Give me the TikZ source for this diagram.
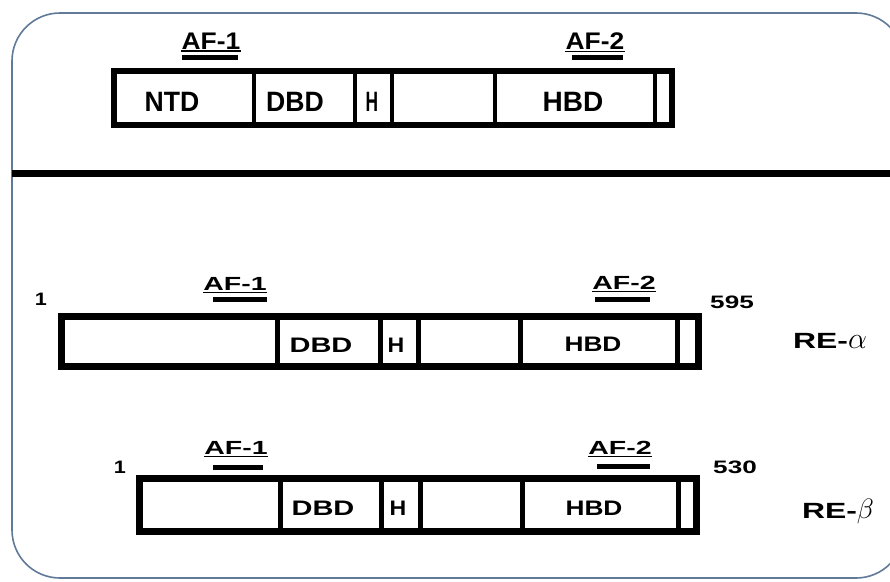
\documentclass[tikz,border=0pt]{standalone}
\usepackage{fontspec}
\usepackage{graphicx}
\setmainfont{Liberation Sans}
\definecolor{framecol}{RGB}{96,122,152}
\newcommand\wide[2]{\scalebox{#1}[1]{#2}}
\begin{document}
\begin{tikzpicture}[x=1pt,y=-1pt,
  barline/.style={line width=6pt, line join=miter},
  barlineb/.style={line width=7pt, line join=miter},
  divline/.style={line width=4pt},
  divlineb/.style={line width=5pt},
  afbar/.style={line width=5pt},
  afund/.style={line width=1.6pt},
  toplbl/.style={inner sep=0pt, font=\bfseries\fontsize{28}{28}\selectfont},
  toptag/.style={inner sep=0pt, font=\bfseries\fontsize{24}{24}\selectfont},
  lowlbl/.style={inner sep=0pt, font=\bfseries\fontsize{21}{21}\selectfont},
  lowtag/.style={inner sep=0pt, font=\bfseries\fontsize{19}{19}\selectfont},
  numlbl/.style={inner sep=0pt, font=\bfseries\fontsize{18}{18}\selectfont},
  relbl/.style={inner sep=0pt, anchor=base, font=\bfseries\fontsize{22}{22}\selectfont}]
\useasboundingbox (0,0) rectangle (890,581);

% outer frame, running past the right edge
\begin{scope}
  \clip (0,0) rectangle (890,581);
  \draw[framecol, line width=1.6pt, rounded corners=48pt] (12,13) rectangle (904,578);
  \fill[black] (12,170) rectangle (890,177);
\end{scope}

% ---------- generic receptor ----------
\draw[barline] (114,71) rectangle (672,125);
\foreach \x in {254,355,392,495,655} \draw[divline] (\x,71) -- (\x,125);
\node[toplbl] (ntd)  at (172,102) {\wide{0.95}{NTD}};
\node[toplbl] (dbd)  at (295,102) {\wide{0.95}{DBD}};
\node[toplbl] (hng)  at (372,102) {\wide{0.62}{H}};
\node[toplbl] (hbd)  at (573,102) {\wide{1.0}{HBD}};

\node[toptag] (afa) at (211,41) {\wide{1.1}{AF-1}};
\draw[afund] ([yshift=-2pt]afa.base west) -- ([yshift=-2pt]afa.base east);
\draw[afbar] (182,57) -- (238,57);
\node[toptag] (afb) at (595,41) {\wide{1.1}{AF-2}};
\draw[afund] ([yshift=-2pt]afb.base west) -- ([yshift=-2pt]afb.base east);
\draw[afbar] (572,57) -- (623,57);

% ---------- RE-alpha ----------
\draw[barlineb] (61.5,316.5) rectangle (698.5,366.5);
\foreach \x in {277,380,418,520,677} \draw[divlineb] (\x,316.5) -- (\x,366.5);
\node[lowlbl] (adbd) at (321,345) {\wide{1.38}{DBD}};
\node[lowlbl] (ah)   at (396,345) {\wide{1.1}{H}};
\node[lowlbl] (ahbd) at (593,344) {\wide{1.25}{HBD}};
\node[numlbl] (astart) at (41,299) {\wide{1.2}{1}};
\node[numlbl] (aend)   at (732,302) {\wide{1.45}{595}};
\node[relbl]  (aname)  at (830,348) {\wide{1.45}{RE-}\scalebox{1.45}{$\alpha$}};

\node[lowtag] (aafa) at (235,284) {\wide{1.5}{AF-1}};
\draw[afund] ([yshift=-2pt]aafa.base west) -- ([yshift=-2pt]aafa.base east);
\draw[afbar] (213,299) -- (267,299);
\node[lowtag] (aafb) at (624,283) {\wide{1.5}{AF-2}};
\draw[afund] ([yshift=-2pt]aafb.base west) -- ([yshift=-2pt]aafb.base east);
\draw[afbar] (595,299) -- (650,299);

% ---------- RE-beta ----------
\draw[barlineb] (139.5,478.5) rectangle (696.5,531.5);
\foreach \x in {280,381,420,522,678} \draw[divlineb] (\x,478.5) -- (\x,531.5);
\node[lowlbl] (bdbd) at (323,508) {\wide{1.38}{DBD}};
\node[lowlbl] (bh)   at (398,508) {\wide{1.1}{H}};
\node[lowlbl] (bhbd) at (594,508) {\wide{1.25}{HBD}};
\node[numlbl] (bstart) at (120,467) {\wide{1.2}{1}};
\node[numlbl] (bend)   at (735,467) {\wide{1.45}{530}};
\node[relbl]  (bname)  at (838,518) {\wide{1.45}{RE-}\scalebox{1.35}{$\beta$}};

\node[lowtag] (bafa) at (236,448) {\wide{1.5}{AF-1}};
\draw[afund] ([yshift=-2pt]bafa.base west) -- ([yshift=-2pt]bafa.base east);
\draw[afbar] (213,467) -- (263,467);
\node[lowtag] (bafb) at (620,448) {\wide{1.5}{AF-2}};
\draw[afund] ([yshift=-2pt]bafb.base west) -- ([yshift=-2pt]bafb.base east);
\draw[afbar] (597,466) -- (650,466);
\end{tikzpicture}
\end{document}
